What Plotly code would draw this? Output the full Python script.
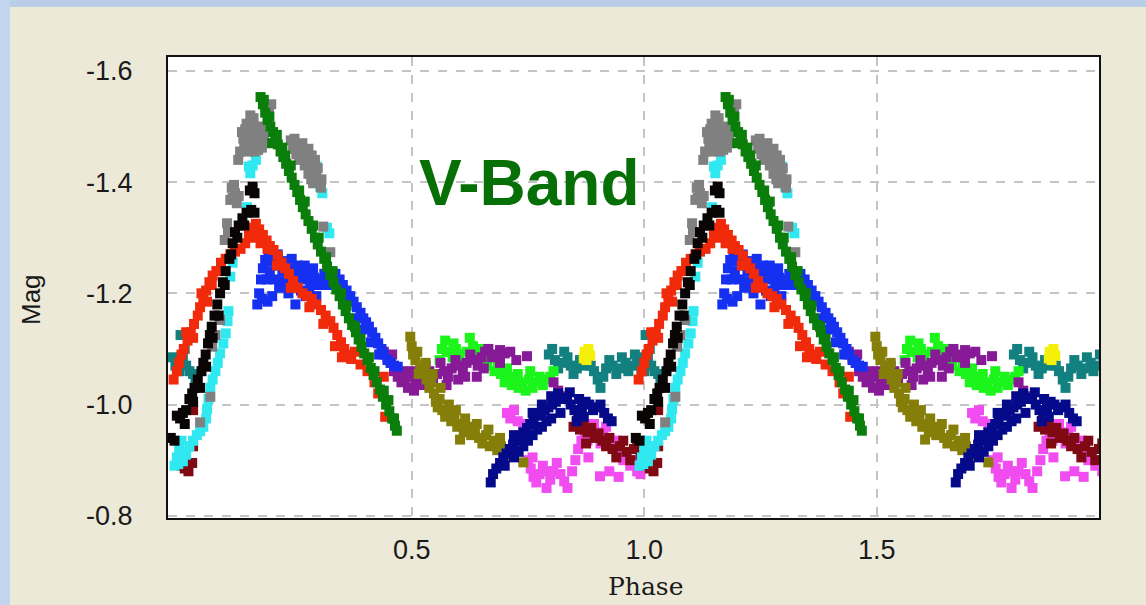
import plotly.graph_objects as go

# ---- data: (phase, magnitude) pairs, one list per observing run ----
GREEN = [(0.175,-1.553),(0.180,-1.540),(0.185,-1.525),(0.190,-1.512),(0.196,-1.500),(0.202,-1.490),
         (0.207,-1.478),(0.212,-1.468),(0.218,-1.455),(0.224,-1.445),(0.230,-1.433),(0.236,-1.420),
         (0.242,-1.408),(0.248,-1.395),(0.254,-1.382),(0.260,-1.368),(0.266,-1.355),(0.272,-1.342),
         (0.278,-1.330),(0.285,-1.316),(0.292,-1.300),(0.298,-1.288),(0.305,-1.275),(0.312,-1.262),
         (0.318,-1.248),(0.325,-1.233),(0.332,-1.220),(0.338,-1.207),(0.345,-1.195),(0.352,-1.180),
         (0.358,-1.168),(0.365,-1.155),(0.372,-1.143),(0.380,-1.130),(0.386,-1.117),(0.392,-1.104),
         (0.398,-1.092),(0.405,-1.080),(0.412,-1.066),(0.418,-1.053),(0.425,-1.040),(0.432,-1.027),
         (0.438,-1.014),(0.445,-1.000),(0.452,-0.988),(0.458,-0.975),(0.464,-0.962),(0.468,-0.953),
         (0.200,-1.470),(0.210,-1.485),(0.222,-1.462),(0.240,-1.430),(0.270,-1.365),(0.300,-1.300),
         (0.330,-1.240),(0.360,-1.178),(0.390,-1.118),(0.420,-1.060),(0.450,-1.008),(0.182,-1.548),
         (0.194,-1.518),(0.228,-1.448),(0.258,-1.385),(0.288,-1.322),(0.316,-1.265),(0.348,-1.200),
         (0.378,-1.140),(0.408,-1.085),(0.440,-1.025),(0.462,-0.975)]
GRAY = [(0.153,-1.520),(0.160,-1.515),(0.189,-1.535),(0.193,-1.525),(0.135,-1.490),(0.142,-1.495),
        (0.150,-1.480),(0.158,-1.488),(0.165,-1.470),(0.172,-1.478),(0.178,-1.462),(0.140,-1.465),
        (0.131,-1.455),(0.148,-1.455),(0.162,-1.455),(0.127,-1.440),(0.240,-1.475),(0.248,-1.478),
        (0.255,-1.465),(0.262,-1.455),(0.268,-1.448),(0.275,-1.440),(0.282,-1.432),(0.290,-1.425),
        (0.270,-1.430),(0.258,-1.440),(0.295,-1.410),(0.300,-1.400),(0.305,-1.390),(0.288,-1.398),
        (0.113,-1.390),(0.120,-1.380),(0.128,-1.375),(0.110,-1.368),(0.103,-1.326),(0.098,-1.296),
        (0.105,-1.310),(0.310,-1.320),(0.325,-1.274),(0.088,-1.152),(0.071,-1.104),(0.067,-1.014),
        (0.045,-0.968),(0.078,-1.125),(0.145,-1.505),(0.155,-1.498),(0.168,-1.490),(0.175,-1.500),
        (0.182,-1.485),(0.138,-1.478),(0.152,-1.465),(0.170,-1.458),(0.185,-1.470),(0.245,-1.460),
        (0.252,-1.450),(0.265,-1.470),(0.278,-1.460),(0.285,-1.448),(0.292,-1.440),(0.298,-1.425),
        (0.278,-1.415),(0.284,-1.405),(0.306,-1.405),(0.118,-1.395),(0.124,-1.362),(0.198,-1.540),
        (0.115,-1.372)]
CYAN = [(-0.010,-0.890),(-0.005,-0.905),(0.000,-0.920),(0.008,-0.898),(0.015,-0.910),(0.022,-0.925),
        (0.030,-0.935),(0.038,-0.945),(0.045,-0.952),(0.052,-0.960),(0.058,-0.975),(0.060,-0.992),
        (0.063,-1.010),(0.067,-1.030),(0.072,-1.045),(0.078,-1.060),(0.083,-1.075),(0.088,-1.092),
        (0.095,-1.110),(0.100,-1.128),(0.104,-1.150),(0.106,-1.168),(0.110,-1.230),(0.115,-1.255),
        (0.146,-1.355),(0.153,-1.416),(0.158,-1.430),(0.165,-1.440),(0.150,-1.428),
        (0.262,-1.455),(0.275,-1.450),(0.290,-1.438),(0.296,-1.428),(0.303,-1.392),(0.308,-1.380),
        (0.318,-1.318),(0.323,-1.308),(-0.002,-0.893),(0.010,-0.915),(0.005,-0.935)]
BLACK = [(-0.018,-0.940),(-0.010,-0.935),(-0.005,-0.980),(0.002,-0.975),(0.008,-0.985),(0.015,-0.990),
         (0.012,-0.965),(0.022,-1.010),(0.028,-1.020),(0.033,-1.030),(0.040,-1.045),(0.048,-1.060),
         (0.052,-1.075),(0.057,-1.090),(0.062,-1.110),(0.066,-1.125),(0.070,-1.140),(0.076,-1.160),
         (0.082,-1.180),(0.088,-1.200),(0.094,-1.220),(0.100,-1.240),(0.108,-1.262),(0.115,-1.290),
         (0.120,-1.310),(0.128,-1.322),(0.136,-1.335),(0.145,-1.345),(0.155,-1.350),(0.162,-1.345),
         (0.152,-1.385),(0.158,-1.392),(0.162,-1.380),(0.030,-1.005),(0.045,-1.030),(0.058,-1.068),
         (0.072,-1.120),(0.085,-1.160),(0.098,-1.215),(0.112,-1.270),(0.125,-1.300),(0.140,-1.322)]
RED = [(-0.012,-1.045),(-0.005,-1.060),(0.000,-1.075),(0.005,-1.090),(0.010,-1.100),(0.018,-1.115),
       (0.025,-1.130),(0.032,-1.145),(0.040,-1.160),(0.045,-1.175),(0.052,-1.190),(0.058,-1.205),
       (0.065,-1.220),(0.072,-1.232),(0.080,-1.240),(0.090,-1.255),(0.100,-1.262),(0.110,-1.270),
       (0.120,-1.275),(0.132,-1.280),(0.142,-1.290),(0.150,-1.305),(0.158,-1.318),(0.165,-1.325),
       (0.172,-1.315),(0.180,-1.305),(0.188,-1.295),(0.195,-1.285),(0.203,-1.278),(0.212,-1.268),
       (0.220,-1.255),(0.228,-1.245),(0.236,-1.235),(0.245,-1.222),(0.255,-1.210),(0.265,-1.200),
       (0.275,-1.195),(0.285,-1.190),(0.295,-1.180),(0.305,-1.170),(0.315,-1.160),(0.325,-1.150),
       (0.332,-1.138),(0.340,-1.125),(0.348,-1.112),(0.355,-1.100),(0.362,-1.090),(0.370,-1.082),
       (0.378,-1.095),(0.390,-1.072),(0.405,-1.060),(0.420,-1.040),(0.428,-1.020),(0.440,-1.050),
       (0.443,-0.978),(0.015,-1.130),(0.030,-1.120),(0.048,-1.200),(0.060,-1.185),(0.070,-1.215),
       (0.160,-1.300),(0.175,-1.290),(0.190,-1.280),(0.210,-1.250),(0.240,-1.210),(0.280,-1.175),
       (0.310,-1.145),(0.335,-1.105),(0.350,-1.085)]
BLUE = [(0.168,-1.180),(0.172,-1.200),(0.176,-1.225),(0.180,-1.245),(0.185,-1.260),(0.192,-1.265),
        (0.200,-1.258),(0.208,-1.262),(0.215,-1.250),(0.222,-1.240),(0.230,-1.258),(0.238,-1.245),
        (0.245,-1.235),(0.252,-1.228),(0.260,-1.240),(0.268,-1.225),(0.275,-1.235),(0.282,-1.220),
        (0.290,-1.228),(0.298,-1.215),(0.305,-1.225),(0.312,-1.235),(0.320,-1.240),(0.328,-1.230),
        (0.336,-1.235),(0.345,-1.225),(0.352,-1.215),(0.360,-1.205),(0.368,-1.195),(0.375,-1.185),
        (0.382,-1.175),(0.390,-1.165),(0.396,-1.155),(0.402,-1.148),(0.408,-1.140),(0.415,-1.130),
        (0.422,-1.120),(0.428,-1.110),(0.435,-1.100),(0.440,-1.090),(0.448,-1.080),(0.455,-1.075),
        (0.462,-1.070),(0.470,-1.068),(0.200,-1.195),(0.215,-1.210),(0.190,-1.185),(0.235,-1.200),
        (0.250,-1.180),(0.272,-1.195),(0.195,-1.240),(0.205,-1.225),(0.212,-1.270),(0.225,-1.222),
        (0.232,-1.212),(0.242,-1.262),(0.255,-1.250),(0.262,-1.205),(0.270,-1.250),(0.280,-1.205),
        (0.288,-1.245),(0.295,-1.195),(0.318,-1.215),(0.340,-1.210),(0.355,-1.195),(0.380,-1.155),
        (0.395,-1.135),(0.412,-1.112),(0.430,-1.090),(0.178,-1.190),(0.188,-1.225)]
PURPLE = [(0.440,-1.095),(0.448,-1.085),(0.455,-1.075),(0.462,-1.060),(0.470,-1.050),(0.478,-1.040),
          (0.485,-1.045),(0.492,-1.030),(0.500,-1.060),(0.508,-1.040),(0.515,-1.050),(0.522,-1.065),
          (0.530,-1.070),(0.538,-1.060),(0.546,-1.045),(0.555,-1.055),(0.562,-1.075),(0.570,-1.060),
          (0.578,-1.050),(0.586,-1.065),(0.594,-1.080),(0.602,-1.070),(0.610,-1.060),(0.618,-1.075),
          (0.626,-1.090),(0.634,-1.080),(0.642,-1.070),(0.650,-1.085),(0.658,-1.095),(0.665,-1.100),
          (0.672,-1.085),(0.680,-1.090),(0.690,-1.098),(0.700,-1.092),(0.712,-1.095),(0.725,-1.080),
          (0.748,-1.087),(0.805,-1.040),(0.815,-1.025),(0.830,-1.015),(0.505,-1.025),(0.520,-1.035),
          (0.480,-1.060),(0.600,-1.045),(0.640,-1.050),(0.458,-1.090),(0.495,-1.050),(0.535,-1.040),
          (0.575,-1.035),(0.615,-1.050),(0.655,-1.065),(0.690,-1.075)]
OLIVE = [(0.497,-1.122),(0.500,-1.105),(0.503,-1.090),(0.508,-1.080),(0.512,-1.095),(0.518,-1.070),
         (0.522,-1.055),(0.528,-1.060),(0.532,-1.045),(0.538,-1.030),(0.542,-1.040),(0.548,-1.020),
         (0.552,-1.005),(0.556,-0.995),(0.560,-1.010),(0.566,-0.990),(0.572,-0.978),(0.578,-0.985),
         (0.585,-0.970),(0.592,-0.975),(0.598,-0.960),(0.604,-0.937),(0.606,-0.965),(0.612,-0.950),
         (0.620,-0.960),(0.628,-0.945),(0.636,-0.955),(0.645,-0.940),(0.652,-0.930),(0.660,-0.945),
         (0.668,-0.925),(0.676,-0.935),(0.684,-0.918),(0.692,-0.925),(0.700,-0.908),(0.740,-0.896),
         (0.515,-1.055),(0.530,-1.075),(0.545,-1.055),(0.562,-1.030),(0.580,-1.000),(0.595,-0.990),
         (0.615,-0.975),(0.640,-0.965),(0.665,-0.955),(0.690,-0.940)]
LIME = [(0.560,-1.080),(0.565,-1.100),(0.572,-1.115),(0.580,-1.095),(0.588,-1.085),(0.595,-1.100),
        (0.602,-1.090),(0.610,-1.075),(0.618,-1.095),(0.625,-1.120),(0.632,-1.105),(0.640,-1.090),
        (0.648,-1.100),(0.655,-1.080),(0.662,-1.070),(0.670,-1.085),(0.678,-1.060),(0.685,-1.070),
        (0.692,-1.055),(0.700,-1.040),(0.708,-1.050),(0.715,-1.035),(0.722,-1.045),(0.730,-1.030),
        (0.738,-1.040),(0.745,-1.025),(0.752,-1.045),(0.760,-1.030),(0.768,-1.040),(0.775,-1.050),
        (0.782,-1.035),(0.790,-1.045),(0.798,-1.050),(0.805,-1.060),(0.575,-1.095),(0.590,-1.110),
        (0.630,-1.085),(0.705,-1.065),(0.728,-1.055),(0.755,-1.060)]
TEAL = [(0.795,-1.090),(0.802,-1.100),(0.808,-1.080),(0.815,-1.065),(0.822,-1.075),(0.828,-1.095),
        (0.835,-1.085),(0.842,-1.070),(0.848,-1.055),(0.855,-1.065),(0.862,-1.080),(0.870,-1.070),
        (0.878,-1.085),(0.885,-1.070),(0.892,-1.060),(0.900,-1.045),(0.906,-1.030),(0.912,-1.050),
        (0.918,-1.065),(0.925,-1.080),(0.932,-1.070),(0.940,-1.055),(0.946,-1.065),(0.952,-1.085),
        (0.960,-1.075),(0.966,-1.060),(0.972,-1.070),(0.980,-1.090),(0.988,-1.075),(0.994,-1.060),
        (-0.015,-1.085),(-0.008,-1.070),(0.000,-1.060),(0.003,-1.125),(0.008,-1.085),(0.015,-1.070),
        (0.022,-1.060),(0.030,-1.055),(0.012,-1.100),(0.035,-1.045)]
YELLOW = [(0.872,-1.095),(0.880,-1.100),(0.876,-1.080),(0.884,-1.088),(0.870,-1.083)]
NAVY = [(0.670,-0.860),(0.675,-0.875),(0.682,-0.885),(0.690,-0.895),(0.697,-0.905),(0.704,-0.912),
        (0.711,-0.920),(0.718,-0.928),(0.725,-0.935),(0.732,-0.942),(0.740,-0.950),(0.748,-0.958),
        (0.755,-0.965),(0.762,-0.972),(0.770,-0.980),(0.778,-0.985),(0.786,-0.990),(0.794,-0.995),
        (0.802,-1.000),(0.810,-1.005),(0.818,-1.010),(0.826,-1.012),(0.834,-1.010),(0.842,-1.000),
        (0.850,-0.990),(0.858,-0.985),(0.866,-0.995),(0.874,-1.005),(0.882,-1.000),(0.890,-0.990),
        (0.898,-0.995),(0.906,-1.000),(0.914,-0.985),(0.922,-0.975),(0.930,-0.970),(0.700,-0.890),
        (0.720,-0.905),(0.740,-0.925),(0.760,-0.945),(0.780,-0.960),(0.800,-0.975),(0.820,-0.985),
        (0.855,-0.970),(0.870,-0.978),(0.730,-0.915),(0.750,-0.935),(0.770,-0.955),(0.790,-0.970),
        (0.760,-0.985),(0.780,-1.000),(0.800,-1.015),(0.815,-1.020),(0.840,-1.022),(0.860,-1.010),
        (0.720,-0.945)]
MAGENTA = [(0.705,-0.985),(0.712,-0.975),(0.720,-0.990),(0.728,-0.970),(0.740,-0.965),(0.750,-0.900),
           (0.756,-0.885),(0.762,-0.870),(0.768,-0.860),(0.775,-0.875),(0.782,-0.890),(0.790,-0.880),
           (0.798,-0.865),(0.805,-0.880),(0.812,-0.895),(0.820,-0.875),(0.828,-0.862),(0.835,-0.850),
           (0.845,-0.880),(0.852,-0.900),(0.858,-0.920),(0.865,-0.935),(0.872,-0.950),(0.878,-0.935),
           (0.885,-0.955),(0.892,-0.965),(0.900,-0.945),(0.906,-0.930),(0.912,-0.950),(0.918,-0.960),
           (0.925,-0.940),(0.932,-0.925),(0.940,-0.935),(0.948,-0.915),(0.955,-0.900),(0.962,-0.910),
           (0.970,-0.890),(0.978,-0.900),(0.985,-0.880),(0.992,-0.875),(0.880,-0.905),(0.905,-0.871),
           (0.925,-0.880),(0.945,-0.870),(0.760,-0.905),(0.790,-0.850)]
MAROON = [(0.848,-0.960),(0.855,-0.970),(0.862,-0.955),(0.870,-0.965),(0.878,-0.950),(0.886,-0.958),
          (0.894,-0.940),(0.902,-0.948),(0.910,-0.935),(0.918,-0.925),(0.925,-0.940),(0.932,-0.920),
          (0.940,-0.905),(0.948,-0.925),(0.955,-0.935),(0.962,-0.915),(0.970,-0.900),(0.978,-0.920),
          (0.985,-0.930),(0.992,-0.910),(0.998,-0.900),(0.005,-0.890),(0.012,-0.885),(0.020,-0.880),
          (0.028,-0.895),(0.030,-0.925),(0.030,-0.990),(0.875,-0.930)]

# draw order (bottom -> top) and colours
SERIES = [("magenta", MAGENTA, "#f04cf0"), ("maroon", MAROON, "#7f0a14"), ("teal", TEAL, "#138080"),
          ("yellow", YELLOW, "#f5f00a"), ("lime", LIME, "#1cf51c"), ("purple", PURPLE, "#871a96"),
          ("olive", OLIVE, "#857f0a"), ("navy", NAVY, "#050a8a"), ("blue", BLUE, "#1530f0"),
          ("red", RED, "#f02a0a"), ("cyan", CYAN, "#30e8f0"), ("gray", GRAY, "#808080"),
          ("black", BLACK, "#0a0505"), ("green", GREEN, "#0a7d0a")]
CYCLES = [0, 1]
X_TICKS = [0.5, 1.0, 1.5]
X_TICK_TEXT = ["0.5", "1.0", "1.5"]
Y_TICKS = [-1.6, -1.4, -1.2, -1.0, -0.8]
Y_TICK_TEXT = ["-1.6", "-1.4", "-1.2", "-1.0", "-0.8"]

fig = go.Figure()
for name, pts, col in SERIES:
    xs, ys = [], []
    for c in CYCLES:
        for p, m in pts:
            xs.append(p + c)
            ys.append(m)
    fig.add_trace(go.Scatter(x=xs, y=ys, mode="markers", name=name, showlegend=False,
                             marker=dict(symbol="square", size=10, color=col, line=dict(width=0))))

W, H = 1146, 605
L, R, T, B = 168, 1099, 57, 518
def px(x):
    return (x - L) / (R - L)
def py(y):
    return (B - y) / (B - T)

fig.update_layout(
    width=W, height=H,
    margin=dict(l=L, r=W - R, t=T, b=H - B),
    paper_bgcolor="#ece9d8", plot_bgcolor="#ffffff",
    font=dict(family="Liberation Sans, Arial, sans-serif", color="#1a1a1a"),
    xaxis=dict(range=[-0.024, 1.978], tickvals=X_TICKS, ticktext=X_TICK_TEXT,
               showgrid=True, gridcolor="#c4c4c4", griddash="dash", gridwidth=1.5,
               showline=True, linecolor="#111111", linewidth=2, mirror=True,
               ticks="", ticklabelstandoff=7, tickfont=dict(size=27), zeroline=False),
    yaxis=dict(range=[-0.796, -1.625], tickvals=Y_TICKS, ticktext=Y_TICK_TEXT,
               showgrid=True, gridcolor="#c4c4c4", griddash="dash", gridwidth=1.5,
               showline=True, linecolor="#111111", linewidth=2, mirror=True,
               ticks="", ticklabelstandoff=28, tickfont=dict(size=27), zeroline=False),
    shapes=[
        dict(type="rect", xref="paper", yref="paper", x0=px(0), x1=px(W), y0=py(0), y1=py(7),
             fillcolor="#b9cde9", line=dict(width=0), layer="below"),
        dict(type="rect", xref="paper", yref="paper", x0=px(0), x1=px(10), y0=py(0), y1=py(H),
             fillcolor="#c3d4ee", line=dict(width=0), layer="below"),
    ],
    annotations=[
        dict(text="V-Band", xref="paper", yref="paper", x=px(529), y=py(183), showarrow=False,
             xanchor="center", yanchor="middle",
             font=dict(family="Liberation Sans, Arial, sans-serif", size=64, color="#067006", weight="bold")),
        dict(text="Phase", xref="paper", yref="paper", x=px(645), y=py(586), showarrow=False,
             xanchor="center", yanchor="middle",
             font=dict(family="DejaVu Serif, serif", size=25, color="#1a1a1a")),
        dict(text="Mag", xref="paper", yref="paper", x=px(31), y=py(300), showarrow=False,
             textangle=-90, xanchor="center", yanchor="middle",
             font=dict(family="Liberation Sans, Arial, sans-serif", size=26, color="#1a1a1a")),
    ],
)

fig.write_html("out.html", config={"displayModeBar": False},
               post_script="document.body.style.margin='0';")
